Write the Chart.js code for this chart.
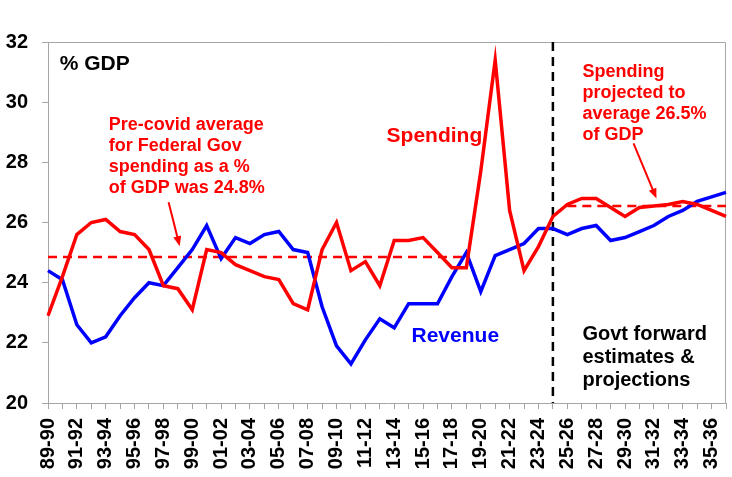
<!DOCTYPE html>
<html>
<head>
<meta charset="utf-8">
<script src="https://cdn.jsdelivr.net/npm/chart.js@4.4.0/dist/chart.umd.min.js"></script>
<style>
  html, body { margin: 0; padding: 0; background: #fff; }
  #wrap { width: 732px; height: 477px; }
</style>
</head>
<body>
<div id="wrap"><canvas id="chart" width="732" height="477"></canvas></div>
<script>
// Federal Gov revenue and spending, % of GDP (financial years)
const years = [
    '89-90', '90-91', '91-92', '92-93', '93-94', '94-95', '95-96', '96-97',
    '97-98', '98-99', '99-00', '00-01', '01-02', '02-03', '03-04', '04-05',
    '05-06', '06-07', '07-08', '08-09', '09-10', '10-11', '11-12', '12-13',
    '13-14', '14-15', '15-16', '16-17', '17-18', '18-19', '19-20', '20-21',
    '21-22', '22-23', '23-24', '24-25', '25-26', '26-27', '27-28', '28-29',
    '29-30', '30-31', '31-32', '32-33', '33-34', '34-35', '35-36', '36-37'
];

const spending = [
    22.9, 24.2, 25.6, 26.0, 26.1, 25.7, 25.6, 25.1,
    23.9, 23.8, 23.1, 25.1, 25.0, 24.6, 24.4, 24.2,
    24.1, 23.3, 23.1, 25.1, 26.0, 24.4, 24.7, 23.9,
    25.4, 25.4, 25.5, 25.0, 24.5, 24.5, 27.7, 31.4,
    26.4, 24.4, 25.2, 26.2, 26.6, 26.8, 26.8, 26.5,
    26.2, 26.5, 26.55, 26.6, 26.7, 26.6, 26.4, 26.2
];

const revenue = [
    24.4, 24.1, 22.6, 22.0, 22.2, 22.9, 23.5, 24.0,
    23.9, 24.5, 25.1, 25.9, 24.8, 25.5, 25.3, 25.6,
    25.7, 25.1, 25.0, 23.2, 21.9, 21.3, 22.1, 22.8,
    22.5, 23.3, 23.3, 23.3, 24.2, 25.0, 23.7, 24.9,
    25.1, 25.3, 25.8, 25.8, 25.6, 25.8, 25.9, 25.4,
    25.5, 25.7, 25.9, 26.2, 26.4, 26.7, 26.85, 27.0
];

const yTicks = [20, 22, 24, 26, 28, 30, 32];

// average lines: value and first/last year index they cover
const preCovidAvg = 24.85;
const preCovidSpan = [0, 29];
const projectedAvg = 26.55;
const projectedSpan = [36, 47];

// first year of forward estimates (vertical divider)
const forecastStart = 35;

const FONT = '"Liberation Sans", Arial, Helvetica, sans-serif';
const RED = '#ff0000';
const BLUE = '#0000ff';
const AXIS = '#a6a6a6';

function flatLine(value, span) {
    return years.map((_, i) => (i >= span[0] && i <= span[1]) ? value : null);
}

// notes: position in data units (year index, % GDP) of the first baseline
const notes = [
    { i: 0.81, v: 31.06, lines: ['% GDP'], color: '#000', size: 21, step: 0 },
    { i: 4.21, v: 29.06, lines: ['Pre-covid average', 'for Federal Gov', 'spending as a %', 'of GDP was 24.8%'], color: RED, size: 18, step: 20.7 },
    { i: 23.47, v: 28.68, lines: ['Spending'], color: RED, size: 21, step: 0 },
    { i: 25.2, v: 22.03, lines: ['Revenue'], color: BLUE, size: 21, step: 0 },
    { i: 37.05, v: 30.82, lines: ['Spending', 'projected to', 'average 26.5%', 'of GDP'], color: RED, size: 18, step: 20.7 },
    { i: 37.05, v: 22.11, lines: ['Govt forward', 'estimates &', 'projections'], color: '#000', size: 20, step: 23 }
];

const arrows = [
    { from: [8.36, 26.67], to: [9.13, 25.21] },
    { from: [40.59, 28.63], to: [42.18, 26.8] }
];

function drawArrow(ctx, x1, y1, x2, y2) {
    const ang = Math.atan2(y2 - y1, x2 - x1);
    const len = 10, half = 4;
    ctx.beginPath();
    ctx.moveTo(x1, y1);
    ctx.lineTo(x2 - Math.cos(ang) * len * 0.8, y2 - Math.sin(ang) * len * 0.8);
    ctx.stroke();
    ctx.beginPath();
    ctx.moveTo(x2, y2);
    ctx.lineTo(x2 - Math.cos(ang) * len - Math.sin(ang) * half, y2 - Math.sin(ang) * len + Math.cos(ang) * half);
    ctx.lineTo(x2 - Math.cos(ang) * len + Math.sin(ang) * half, y2 - Math.sin(ang) * len - Math.cos(ang) * half);
    ctx.closePath();
    ctx.fill();
}

const overlay = {
    id: 'overlay',
    beforeDatasetsDraw(chart) {
        const { ctx, chartArea: a, scales: { x } } = chart;
        ctx.save();
        // top and right frame
        ctx.strokeStyle = AXIS;
        ctx.lineWidth = 1;
        ctx.beginPath();
        ctx.moveTo(a.left, a.top + 0.5);
        ctx.lineTo(a.right - 0.5, a.top + 0.5);
        ctx.lineTo(a.right - 0.5, a.bottom);
        ctx.stroke();
        // forward estimates divider
        const vx = x.getPixelForValue(forecastStart);
        ctx.strokeStyle = '#000';
        ctx.lineWidth = 2.5;
        ctx.setLineDash([9, 6]);
        ctx.beginPath();
        ctx.moveTo(vx, a.top);
        ctx.lineTo(vx, a.bottom);
        ctx.stroke();
        ctx.restore();
    },
    afterDatasetsDraw(chart) {
        const { ctx, scales: { x, y } } = chart;
        ctx.save();
        ctx.textAlign = 'left';
        ctx.textBaseline = 'alphabetic';
        notes.forEach(n => {
            ctx.font = `bold ${n.size}px ${FONT}`;
            ctx.fillStyle = n.color;
            const px = x.getPixelForValue(n.i);
            const py = y.getPixelForValue(n.v);
            n.lines.forEach((t, k) => ctx.fillText(t, px, py + k * n.step));
        });
        ctx.strokeStyle = RED;
        ctx.fillStyle = RED;
        ctx.lineWidth = 2;
        arrows.forEach(r => {
            drawArrow(ctx,
                x.getPixelForValue(r.from[0]), y.getPixelForValue(r.from[1]),
                x.getPixelForValue(r.to[0]), y.getPixelForValue(r.to[1]));
        });
        ctx.restore();
    }
};

new Chart(document.getElementById('chart'), {
    type: 'line',
    data: {
        labels: years,
        datasets: [
            {
                label: 'Spending',
                data: spending,
                borderColor: RED,
                borderWidth: 3.5,
                pointRadius: 0,
                tension: 0
            },
            {
                label: 'Revenue',
                data: revenue,
                borderColor: BLUE,
                borderWidth: 3.5,
                pointRadius: 0,
                tension: 0
            },
            {
                label: 'Pre-covid average',
                data: flatLine(preCovidAvg, preCovidSpan),
                borderColor: RED,
                borderWidth: 2.5,
                borderDash: [9, 6],
                pointRadius: 0,
                spanGaps: false
            },
            {
                label: 'Projected average',
                data: flatLine(projectedAvg, projectedSpan),
                borderColor: RED,
                borderWidth: 2.5,
                borderDash: [9, 6],
                pointRadius: 0,
                spanGaps: false
            }
        ]
    },
    options: {
        responsive: false,
        animation: false,
        layout: { padding: { top: 42, right: 6, left: 0, bottom: 0 } },
        plugins: {
            legend: { display: false },
            tooltip: { enabled: false }
        },
        scales: {
            x: {
                type: 'category',
                offset: false,
                grid: { display: true, drawOnChartArea: false, drawTicks: true, tickLength: 6, color: AXIS },
                border: { display: true, color: AXIS, width: 1 },
                ticks: {
                    autoSkip: false,
                    maxRotation: 90,
                    minRotation: 90,
                    padding: 9,
                    color: '#000',
                    font: { family: FONT, size: 20, weight: 'bold' },
                    callback: (v, i) => (i % 2 === 0 ? years[i] : '')
                },
                afterFit: s => { s.height = 74; s.paddingLeft = 0; s.paddingRight = 0; }
            },
            y: {
                min: 20,
                max: 32,
                afterBuildTicks: s => { s.ticks = yTicks.map(v => ({ value: v })); },
                grid: { display: true, drawOnChartArea: false, drawTicks: true, tickLength: 6, color: AXIS },
                border: { display: true, color: AXIS, width: 1 },
                ticks: {
                    padding: 14,
                    color: '#000',
                    font: { family: FONT, size: 20, weight: 'bold' }
                },
                afterFit: s => { s.width = 48; }
            }
        }
    },
    plugins: [overlay]
});
</script>
</body>
</html>
